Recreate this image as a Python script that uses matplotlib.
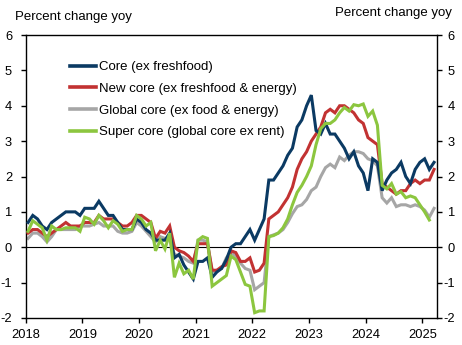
import matplotlib
matplotlib.use("Agg")
import matplotlib.pyplot as plt
import numpy as np

plt.rcParams['font.family'] = ['Liberation Sans', 'DejaVu Sans']

# Monthly series starting Jan 2018
core = [0.7, 0.9, 0.8, 0.6, 0.5, 0.7, 0.8, 0.9, 1.0, 1.0, 1.0, 0.9,
        1.1, 1.1, 1.1, 1.3, 1.1, 0.9, 0.9, 0.7, 0.5, 0.5, 0.5, 0.8,
        0.7, 0.5, 0.4, 0.2, 0.2, 0.2, 0.4, -0.3, -0.2, -0.5, -0.7, -0.9,
        -0.4, -0.4, -0.3, -0.85, -0.7, -0.6, -0.35, 0.0, 0.1, 0.1, 0.3, 0.5,
        0.2, 0.5, 0.8, 1.9, 1.9, 2.1, 2.3, 2.6, 2.8, 3.4, 3.6, 4.0,
        4.3, 3.3, 3.2, 3.5, 3.2, 3.2, 3.0, 2.8, 2.5, 2.7, 2.3, 2.1,
        1.6, 2.5, 2.4, 1.6, 1.9, 2.1, 2.2, 2.4, 2.0, 1.8, 2.2, 2.4,
        2.5, 2.2, 2.4]
new_core = [0.4, 0.5, 0.5, 0.4, 0.3, 0.4, 0.5, 0.6, 0.7, 0.6, 0.6, 0.6,
            0.7, 0.7, 0.7, 0.9, 0.8, 0.8, 0.8, 0.7, 0.6, 0.6, 0.7, 0.9,
            0.9, 0.8, 0.7, 0.25, 0.45, 0.4, 0.6, 0.0, -0.1, -0.15, -0.25, -0.4,
            0.1, 0.1, 0.1, -0.65, -0.65, -0.55, -0.5, -0.1, -0.15, -0.4, -0.4, -0.3,
            -0.7, -0.65, -0.45, 0.8, 0.9, 1.0, 1.2, 1.4, 1.7, 2.2, 2.5, 2.7,
            3.0, 3.2, 3.4, 3.8, 3.9, 3.8, 4.0, 4.0, 3.9, 3.8, 3.6, 3.5,
            3.1, 3.0, 2.9, 1.8, 1.7, 1.6, 1.5, 1.6, 1.6, 1.8, 1.9, 1.8,
            1.9, 1.9, 2.2]
global_core = [0.25, 0.4, 0.4, 0.3, 0.15, 0.3, 0.5, 0.5, 0.5, 0.5, 0.5, 0.6,
               0.6, 0.6, 0.65, 0.7, 0.6, 0.6, 0.6, 0.45, 0.4, 0.4, 0.45, 0.7,
               0.6, 0.45, 0.3, 0.15, 0.3, 0.25, 0.2, -0.2, -0.25, -0.3, -0.4, -0.45,
               0.2, 0.2, 0.15, -0.7, -0.65, -0.6, -0.3, -0.15, -0.25, -0.45, -0.6, -0.65,
               -1.2, -1.1, -1.0, 0.3, 0.35, 0.4, 0.5, 0.7, 0.95, 1.15, 1.2, 1.35,
               1.6, 1.7, 2.0, 2.25, 2.35, 2.25, 2.55, 2.45, 2.6, 2.7, 2.7, 2.65,
               2.5, 2.45, 2.3, 1.4, 1.25, 1.4, 1.15, 1.2, 1.2, 1.15, 1.2, 1.15,
               1.05, 0.85, 1.1]
super_core = [0.45, 0.75, 0.65, 0.55, 0.2, 0.6, 0.5, 0.5, 0.55, 0.55, 0.55, 0.45,
              0.85, 0.8, 0.65, 0.9, 0.75, 0.55, 0.75, 0.65, 0.45, 0.5, 0.5, 0.9,
              0.8, 0.6, 0.7, -0.1, 0.2, -0.05, 0.4, -0.85, -0.45, -0.75, -0.65, -0.9,
              0.2, 0.3, 0.25, -1.1, -1.0, -0.9, -0.8, -0.25, -0.35, -0.7, -1.05, -1.1,
              -1.85, -1.8, -1.8, 0.3, 0.33, 0.4, 0.55, 0.8, 1.2, 1.55, 1.75, 2.0,
              2.3, 2.9, 3.35, 3.5, 3.5, 3.6, 3.8, 3.95, 3.85, 4.03, 4.0, 4.05,
              3.7, 3.85, 3.45, 1.75, 1.65, 1.8, 1.5, 1.57, 1.4, 1.45, 1.4, 1.2,
              1.0, 0.77]

labels = ["Core (ex freshfood)", "New core (ex freshfood & energy)",
          "Global core (ex food & energy)", "Super core (global core ex rent)"]
colors = ["#0b3a63", "#c23232", "#a6a6a6", "#8cc63f"]
years = [2018, 2019, 2020, 2021, 2022, 2023, 2024, 2025]
yticks = [-2, -1, 0, 1, 2, 3, 4, 5, 6]

def month_x(n):
    return 2018 + (np.arange(n) + 0.5) / 12.0

fig = plt.figure(figsize=(4.62, 3.45), dpi=100)
ax = fig.add_axes([25.7/462, 1-318/345, (436.7-25.7)/462, (318-35)/345])

series = [core, new_core, global_core, super_core]
handles = []
zorders = [4, 3, 2, 5]
for s, lab, c, z in zip(series, labels, colors, zorders):
    h, = ax.plot(month_x(len(s)), s, color=c, lw=2.2, label=lab, zorder=z,
                 solid_joinstyle='miter')
    handles.append(h)

ax.axhline(0, color='black', lw=0.8, zorder=1)
ax.set_xlim(2018, 2025.255)
ax.set_ylim(-2, 6)
ax.set_xticks(years)
ax.set_xticklabels([str(y) for y in years])
ax.set_yticks(yticks)
ax.set_yticklabels([str(v) for v in yticks])
for sp in ax.spines.values():
    sp.set_linewidth(1.0)
    sp.set_color('black')
ax.tick_params(axis='both', direction='out', length=3.5, width=1.0, labelsize=9.3, colors='black')
ax.tick_params(axis='y', pad=6.3)
ax.tick_params(axis='x', pad=4.5)

ax2 = ax.twinx()
ax2.set_ylim(-2, 6)
ax2.set_yticks(yticks)
ax2.set_yticklabels([str(v) for v in yticks])
ax2.tick_params(axis='y', direction='out', length=3.5, width=1.0, labelsize=9.3, pad=9.6, colors='black')
for t in ax2.get_yticklabels():
    t.set_horizontalalignment('right')
for sp in ax2.spines.values():
    sp.set_visible(False)

leg = ax.legend(handles=handles, loc='upper left', bbox_to_anchor=(0.108, 0.908),
                frameon=False, fontsize=9.5, handlelength=2.0, handletextpad=0.2,
                labelspacing=0.72, borderaxespad=0, borderpad=0)
for lh in leg.get_lines():
    lh.set_linewidth(2.6)

fig.text(15/462, 1-17.3/345, "Percent change yoy", ha='left', va='center', fontsize=9.5)
fig.text(452/462, 1-12.7/345, "Percent change yoy", ha='right', va='center', fontsize=9.5)

fig.savefig("out.png", dpi=100)
